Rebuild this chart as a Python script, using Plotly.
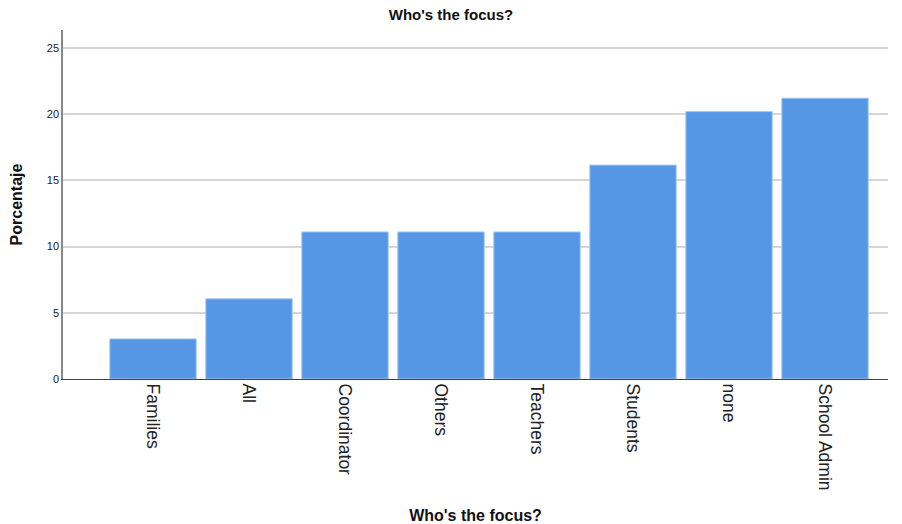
import plotly.graph_objects as go

categories = ["Families", "All", "Coordinator", "Others", "Teachers", "Students", "none", "School Admin"]
percentages = [3.03, 6.06, 11.11, 11.11, 11.11, 16.16, 20.20, 21.21]
y_ticks = [0, 5, 10, 15, 20, 25]

FONT = "Liberation Sans, Arial, sans-serif"

fig = go.Figure(go.Bar(
    x=list(range(len(categories))),
    y=percentages,
    width=0.9,
    marker=dict(color="#5596E5", line=dict(color="#A9C8F0", width=1)),
    hoverinfo="skip",
))

fig.update_layout(
    width=902, height=524,
    margin=dict(l=63, r=14, t=30, b=145),
    paper_bgcolor="white", plot_bgcolor="white",
    showlegend=False,
    font=dict(family=FONT, color="#222"),
    title=dict(text="<b>Who's the focus?</b>", x=0.5, xanchor="center",
               y=0.971, yanchor="middle", font=dict(size=15, family=FONT, color="#111")),
)

fig.update_xaxes(
    range=[-0.9375, 7.656],
    tickmode="array", tickvals=list(range(len(categories))), ticktext=categories,
    tickangle=90, tickfont=dict(size=17.5, family=FONT, color="#222"),
    showgrid=False, zeroline=False,
    showline=True, linecolor="#444", linewidth=1,
    ticks="", ticklen=0, automargin=False,
    title=dict(text="<b>Who's the focus?</b>", font=dict(size=16, family=FONT, color="#111"), standoff=20),
)
fig.update_yaxes(
    range=[0, 26.36],
    tickmode="array", tickvals=y_ticks,
    tickfont=dict(size=11, family=FONT, color="#222"),
    showgrid=True, gridcolor="#D6D6D6", gridwidth=1.5,
    zeroline=False,
    showline=True, linecolor="#888", linewidth=1.5,
    ticks="", ticklen=0, automargin=False,
    title=dict(text="<b>Porcentaje</b>", font=dict(size=16, family=FONT, color="#111"), standoff=20),
)

fig.write_html("out.html", config={"displayModeBar": False},
               post_script="document.body.style.margin='0';document.body.style.padding='0';")
